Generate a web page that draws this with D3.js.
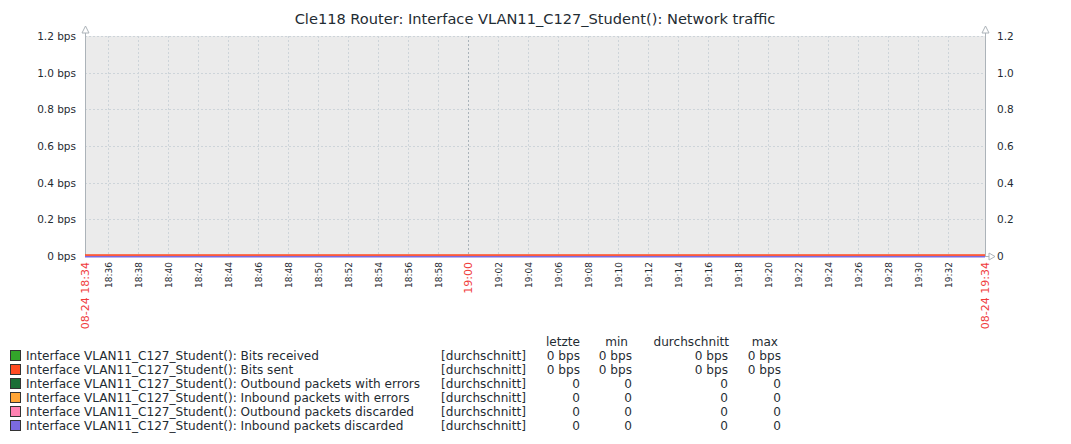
<!DOCTYPE html>
<html><head><meta charset="utf-8">
<script src="https://cdn.jsdelivr.net/npm/d3@7/dist/d3.min.js"></script>
<style>body{margin:0;background:#fff}svg{display:block;font-family:"DejaVu Sans",sans-serif}</style>
</head><body><svg id="c" width="1071" height="444"></svg>
<script>
const title = "Cle118 Router: Interface VLAN11_C127_Student(): Network traffic";
const timeStart = "2023-08-24T18:34:28";
const timeEnd = "2023-08-24T19:34:28";
const sampleTimes = ["18:34:28","18:39:28","18:44:28","18:49:28","18:54:28","18:59:28","19:04:28","19:09:28","19:14:28","19:19:28","19:24:28","19:29:28","19:34:28"];
const seriesNames = ["Interface VLAN11_C127_Student(): Bits received","Interface VLAN11_C127_Student(): Bits sent","Interface VLAN11_C127_Student(): Outbound packets with errors","Interface VLAN11_C127_Student(): Inbound packets with errors","Interface VLAN11_C127_Student(): Outbound packets discarded","Interface VLAN11_C127_Student(): Inbound packets discarded"];
const seriesColors = ["#33a52a","#ff4a22","#1b6e36","#ffa536","#ff82b2","#7b6ae0"];
const bitsReceived = [0,0,0,0,0,0,0,0,0,0,0,0,0];
const bitsSent = [0,0,0,0,0,0,0,0,0,0,0,0,0];
const outErrors = [0,0,0,0,0,0,0,0,0,0,0,0,0];
const inErrors = [0,0,0,0,0,0,0,0,0,0,0,0,0];
const outDiscarded = [0,0,0,0,0,0,0,0,0,0,0,0,0];
const inDiscarded = [0,0,0,0,0,0,0,0,0,0,0,0,0];
const legendFunc = ["[durchschnitt]","[durchschnitt]","[durchschnitt]","[durchschnitt]","[durchschnitt]","[durchschnitt]"];
const legendHeaders = ["letzte","min","durchschnitt","max"];
const legendLast = ["0 bps","0 bps","0","0","0","0"];
const legendMin = ["0 bps","0 bps","0","0","0","0"];
const legendAvg = ["0 bps","0 bps","0","0","0","0"];
const legendMax = ["0 bps","0 bps","0","0","0","0"];
const yTicksLeft = ["0 bps","0.2 bps","0.4 bps","0.6 bps","0.8 bps","1.0 bps","1.2 bps"];
const yTicksRight = ["0","0.2","0.4","0.6","0.8","1.0","1.2"];
const yTickValues = [0,0.2,0.4,0.6,0.8,1.0,1.2];
const edgeLabels = ["08-24 18:34","08-24 19:34"];

const svg = d3.select("#c");
const L = 85, R = 985, T = 36, B = 256;
const parse = d3.timeParse("%Y-%m-%dT%H:%M:%S");
const t0 = parse(timeStart), t1 = parse(timeEnd);
const x = d3.scaleTime().domain([t0, t1]).range([L, R]);
const y = d3.scaleLinear().domain([0, 1.2]).range([B, T]);
const txt = "#1f2c33";

svg.append("text").attr("x", 535).attr("y", 24).attr("text-anchor", "middle")
  .attr("font-size", 14.6).attr("fill", txt).text(title);

svg.append("rect").attr("x", L).attr("y", T).attr("width", R - L).attr("height", B - T).attr("fill", "#ebebeb");

// grid
const ticks = x.ticks(d3.timeMinute.every(2)).filter(t => x(t) > L + 10 && x(t) < R - 10);
const grid = svg.append("g");
ticks.forEach(t => {
  const major = t.getMinutes() === 0;
  grid.append("line").attr("x1", x(t)).attr("x2", x(t)).attr("y1", T).attr("y2", B)
    .attr("stroke", major ? "#a9b3ba" : "#cdd4d9").attr("stroke-dasharray", "2,2").attr("stroke-width", 1)
    .attr("shape-rendering", "crispEdges");
});
yTickValues.forEach(v => {
  if (v === 0) return;
  grid.append("line").attr("x1", L).attr("x2", R).attr("y1", Math.round(y(v)) + 0.5).attr("y2", Math.round(y(v)) + 0.5)
    .attr("stroke", "#cdd4d9").attr("stroke-dasharray", "2,2");
});

// axes
const axc = "#acb3b9";
svg.append("line").attr("x1", L + 0.5).attr("x2", L + 0.5).attr("y1", 30).attr("y2", B).attr("stroke", axc);
svg.append("line").attr("x1", R + 0.5).attr("x2", R + 0.5).attr("y1", 30).attr("y2", B).attr("stroke", axc);
svg.append("line").attr("x1", L).attr("x2", R + 4).attr("y1", B + 0.5).attr("y2", B + 0.5).attr("stroke", axc);
function triUp(cx, cy) { return `M${cx-3.5},${cy+4} L${cx},${cy-3} L${cx+3.5},${cy+4} Z`; }
svg.append("path").attr("d", triUp(L + 0.5, 29)).attr("fill", "#fff").attr("stroke", axc);
svg.append("path").attr("d", triUp(R + 0.5, 29)).attr("fill", "#fff").attr("stroke", axc);
svg.append("path").attr("d", `M${R+4},${B-3} L${R+10},${B+0.5} L${R+4},${B+4} Z`).attr("fill", "#fff").attr("stroke", axc);

// y labels
yTickValues.forEach((v, i) => {
  svg.append("text").attr("x", 76).attr("y", y(v) + 4).attr("text-anchor", "end")
    .attr("font-size", 10.5).attr("fill", txt).text(yTicksLeft[i]);
  svg.append("text").attr("x", 997).attr("y", y(v) + 4).attr("text-anchor", "start")
    .attr("font-size", 10.5).attr("fill", txt).text(yTicksRight[i]);
});

// x labels
ticks.forEach(t => {
  const major = t.getMinutes() === 0;
  svg.append("text").attr("transform", `translate(${x(t) + (major ? 4 : 3.5)},${B + 6}) rotate(-90)`)
    .attr("text-anchor", "end").attr("font-size", major ? 11 : 9)
    .attr("fill", major ? "#f03c3c" : txt).text(d3.timeFormat("%H:%M")(t));
});
[t0, t1].forEach((t, i) => {
  svg.append("text").attr("transform", `translate(${x(t) + 4},${B + 6}) rotate(-90)`)
    .attr("text-anchor", "end").attr("font-size", 11).attr("fill", "#f03c3c").text(edgeLabels[i]);
});

// series lines
const parseT = d3.timeParse("%Y-%m-%d %H:%M:%S");
const times = sampleTimes.map(s => parseT("2023-08-24 " + s));
const seriesVals = [bitsReceived, bitsSent, outErrors, inErrors, outDiscarded, inDiscarded];
const line = d3.line().x(d => x(d[0])).y(d => y(d[1]));
const drawOrder = [0, 2, 3, 4, 1, 5];
const offsets = [0, -1, 0, 0, 0, 0.7];
drawOrder.forEach(i => {
  const pts = times.map((t, k) => [t, seriesVals[i][k]]);
  svg.append("path").attr("d", line(pts)).attr("fill", "none")
    .attr("stroke", seriesColors[i]).attr("stroke-width", 1.5)
    .attr("transform", `translate(0,${offsets[i]})`);
});

// legend
const rowY = i => 360 + i * 14;
const colRight = [580, 632, 728, 781];
const headRight = [580, 628, 729, 778];
legendHeaders.forEach((h, j) => {
  svg.append("text").attr("x", headRight[j]).attr("y", 346).attr("text-anchor", "end")
    .attr("font-size", 12.1).attr("fill", txt).text(h);
});
const cols = [legendLast, legendMin, legendAvg, legendMax];
seriesNames.forEach((n, i) => {
  svg.append("rect").attr("x", 10.5).attr("y", rowY(i) - 9.5).attr("width", 10).attr("height", 10)
    .attr("fill", seriesColors[i]).attr("stroke", "#333");
  svg.append("text").attr("x", 26).attr("y", rowY(i)).attr("font-size", 12.1).attr("fill", txt).text(n);
  svg.append("text").attr("x", 441).attr("y", rowY(i)).attr("font-size", 12.1).attr("fill", txt).text(legendFunc[i]);
  cols.forEach((c, j) => {
    svg.append("text").attr("x", colRight[j]).attr("y", rowY(i)).attr("text-anchor", "end")
      .attr("font-size", 12.1).attr("fill", txt).text(c[i]);
  });
});
</script></body></html>
